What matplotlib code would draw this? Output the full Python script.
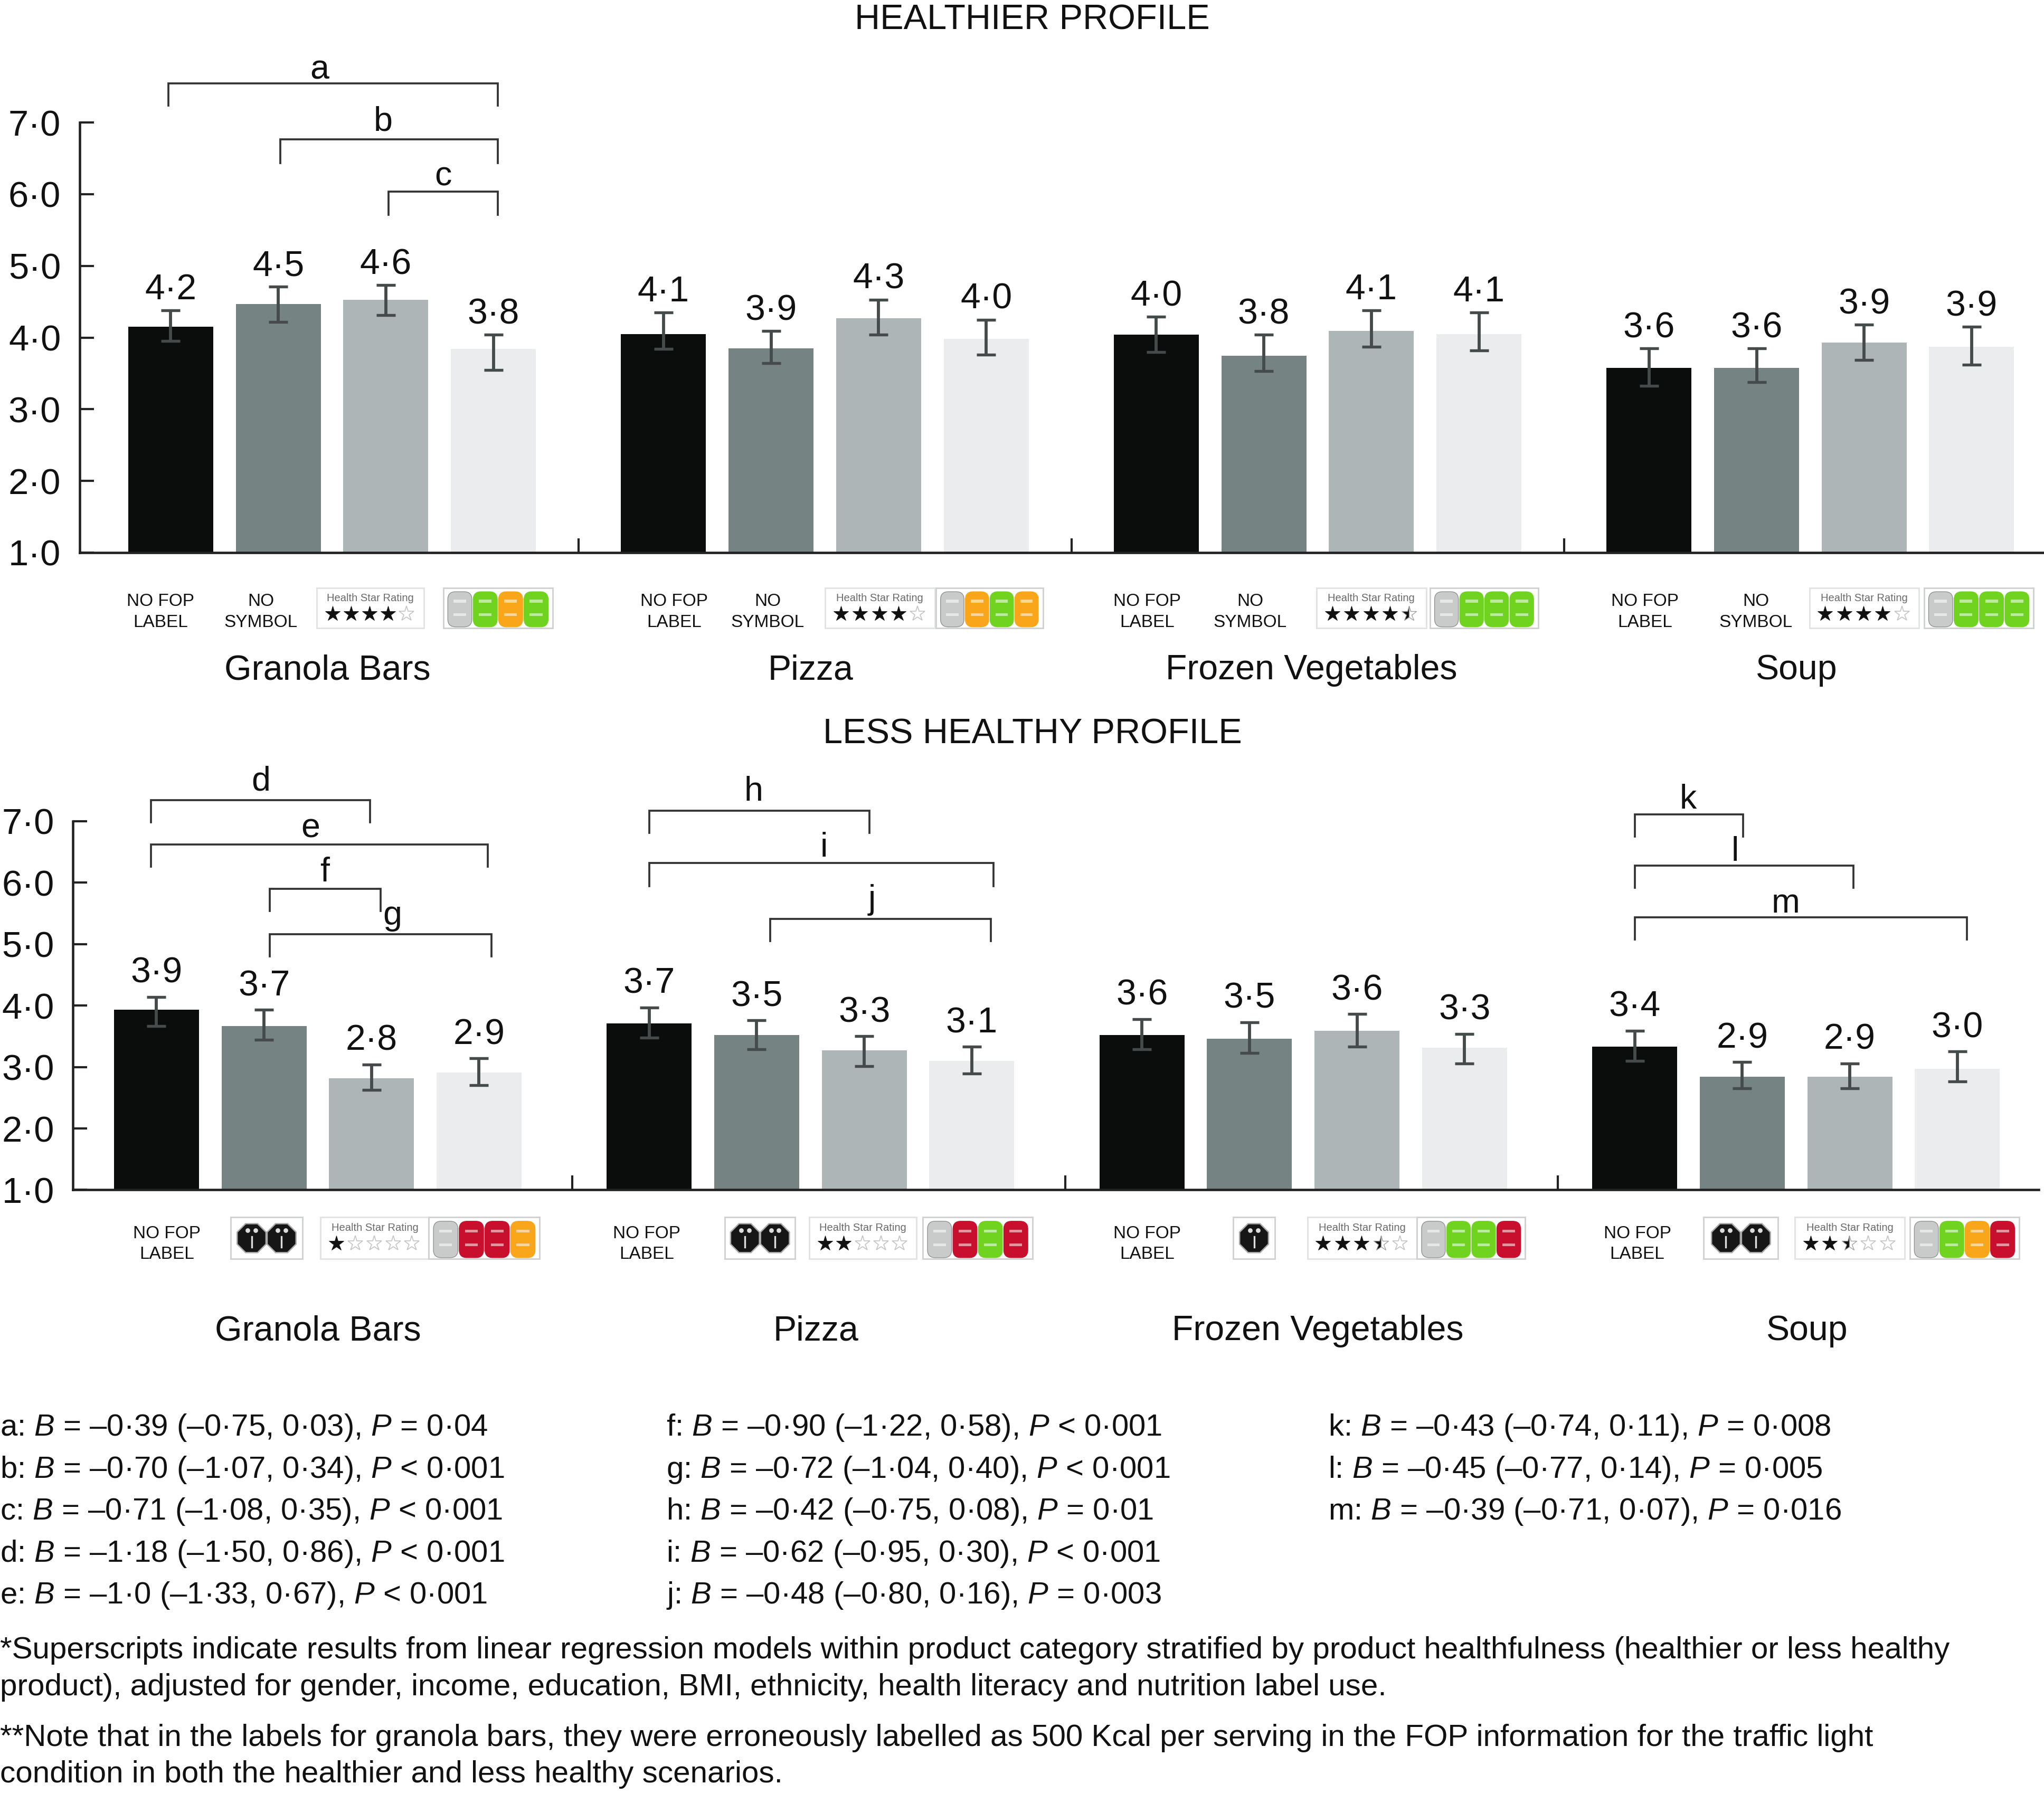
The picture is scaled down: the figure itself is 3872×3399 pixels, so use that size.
import numpy as np
import matplotlib
matplotlib.use("Agg")
import matplotlib.pyplot as plt
from matplotlib.patches import Rectangle, FancyBboxPatch, RegularPolygon
from matplotlib.transforms import ScaledTranslation

plt.rcParams["font.family"] = ["Liberation Sans", "DejaVu Sans"]
plt.rcParams["mathtext.fontset"] = "custom"
plt.rcParams["mathtext.rm"] = "Liberation Sans"
plt.rcParams["mathtext.it"] = "Liberation Sans:italic"

# -----------------------------
# Data
# -----------------------------
categories_top = ["Granola Bars", "Pizza", "Frozen Vegetables", "Soup"]
bar_colors = ["#0b0c0c", "#768383", "#aeb5b6", "#ebeced"]

top_values = [4.15, 4.47, 4.53, 3.84, 4.05, 3.85, 4.27, 3.98,
              4.04, 3.75, 4.09, 4.05, 3.58, 3.58, 3.93, 3.87]
top_hi = [4.38, 4.71, 4.73, 4.04, 4.35, 4.09, 4.53, 4.25,
          4.29, 4.04, 4.38, 4.35, 3.85, 3.85, 4.18, 4.15]
top_lo = [3.95, 4.22, 4.31, 3.55, 3.84, 3.64, 4.04, 3.76,
          3.80, 3.53, 3.87, 3.82, 3.33, 3.38, 3.69, 3.62]
top_labels = ["4·2", "4·5", "4·6", "3·8", "4·1", "3·9", "4·3", "4·0",
              "4·0", "3·8", "4·1", "4·1", "3·6", "3·6", "3·9", "3·9"]

low_values = [3.93, 3.67, 2.82, 2.91, 3.71, 3.52, 3.27, 3.10,
              3.52, 3.46, 3.59, 3.31, 3.33, 2.84, 2.84, 2.97]
low_hi = [4.14, 3.93, 3.04, 3.14, 3.97, 3.76, 3.50, 3.33,
          3.78, 3.73, 3.86, 3.54, 3.59, 3.08, 3.06, 3.25]
low_lo = [3.67, 3.44, 2.63, 2.70, 3.48, 3.29, 3.01, 2.89,
          3.29, 3.23, 3.33, 3.06, 3.10, 2.65, 2.65, 2.76]
low_labels = ["3·9", "3·7", "2·8", "2·9", "3·7", "3·5", "3·3", "3·1",
              "3·6", "3·5", "3·6", "3·3", "3·4", "2·9", "2·9", "3·0"]

ytick_values = [1, 2, 3, 4, 5, 6, 7]
ytick_labels = ["1·0", "2·0", "3·0", "4·0", "5·0", "6·0", "7·0"]

footnotes = [
    (0, ["a: $B$ = –0·39 (–0·75, 0·03), $P$ = 0·04",
         "b: $B$ = –0·70 (–1·07, 0·34), $P$ < 0·001",
         "c: $B$ = –0·71 (–1·08, 0·35), $P$ < 0·001",
         "d: $B$ = –1·18 (–1·50, 0·86), $P$ < 0·001",
         "e: $B$ = –1·0 (–1·33, 0·67), $P$ < 0·001"]),
    (511, ["f: $B$ = –0·90 (–1·22, 0·58), $P$ < 0·001",
           "g: $B$ = –0·72 (–1·04, 0·40), $P$ < 0·001",
           "h: $B$ = –0·42 (–0·75, 0·08), $P$ = 0·01",
           "i: $B$ = –0·62 (–0·95, 0·30), $P$ < 0·001",
           "j: $B$ = –0·48 (–0·80, 0·16), $P$ = 0·003"]),
    (1019, ["k: $B$ = –0·43 (–0·74, 0·11), $P$ = 0·008",
            "l: $B$ = –0·45 (–0·77, 0·14), $P$ = 0·005",
            "m: $B$ = –0·39 (–0·71, 0·07), $P$ = 0·016"]),
]
notes = [
    (1265, "*Superscripts indicate results from linear regression models within product category stratified by product healthfulness (healthier or less healthy"),
    (1293, "product), adjusted for gender, income, education, BMI, ethnicity, health literacy and nutrition label use."),
    (1332, "**Note that in the labels for granola bars, they were erroneously labelled as 500 Kcal per serving in the FOP information for the traffic light"),
    (1360, "condition in both the healthier and less healthy scenarios."),
]

# bracket: label, left, right, y, drop, label x, label y
brackets = [
    ("a", 129, 382, 64, 17, 245, 52), ("b", 215, 382, 107, 18, 294, 92),
    ("c", 298, 382, 147, 18, 340, 134), ("d", 116, 284, 614, 17, 200, 598),
    ("e", 116, 374, 648, 17, 238, 634), ("f", 207, 292, 682, 17, 249, 668),
    ("g", 207, 377, 717, 17, 301, 701), ("h", 498, 667, 622, 17, 578, 606),
    ("i", 498, 762, 662, 18, 632, 649), ("j", 591, 760, 705, 17, 669, 689),
    ("k", 1254, 1337, 625, 17, 1295, 612), ("l", 1254, 1422, 664, 17, 1331, 652),
    ("m", 1254, 1509, 704, 17, 1370, 692),
]

GREY, GREEN, ORANGE, RED = "#c9cbcb", "#6fd320", "#f9a61a", "#c8102e"
# star box: left, right, stars / lights: left, right, colours
top_icons = [
    (243, 325, 4, 340, 424, [GREY, GREEN, ORANGE, GREEN]),
    (633, 717, 4, 718, 800, [GREY, ORANGE, GREEN, ORANGE]),
    (1010, 1094, 4.5, 1097, 1180, [GREY, GREEN, GREEN, GREEN]),
    (1388, 1472, 4, 1476, 1560, [GREY, GREEN, GREEN, GREEN]),
]
low_icons = [
    (246, 329, 1, 329, 414, [GREY, RED, RED, ORANGE]),
    (621, 703, 2, 708, 792, [GREY, RED, GREEN, RED]),
    (1003, 1087, 3.5, 1087, 1170, [GREY, GREEN, GREEN, RED]),
    (1377, 1461, 2.5, 1465, 1549, [GREY, GREEN, ORANGE, RED]),
]
# octagon box: left, right, number of octagons
octagons = [(177, 232, 2), (556, 610, 2), (946, 978, 1), (1307, 1364, 2)]

W, H = 1568.0, 1376.5
fig = plt.figure(figsize=(3872 / 300, 3399 / 300), dpi=300)

# overlay in reference pixels for texts, brackets and label icons
ov = fig.add_axes([0, 0, 1, 1], zorder=5)
ov.set_xlim(0, W)
ov.set_ylim(H, 0)
ov.axis("off")
ov.patch.set_alpha(0)


def draw_bars(values, hi, lo, labels, left, right, y7, y1, bar0, tick_off, label_off, ylab_dy):
    spacing = 82.5
    gap = 378 / spacing
    ax = fig.add_axes([left / W, 1 - y1 / H, (right - left) / W, (y1 - y7) / H])
    x = np.array([g * gap + j for g in range(4) for j in range(4)])
    vals = np.array(values)
    ax.bar(x, vals - 1, bottom=1, width=0.79, color=bar_colors * 4)
    ax.errorbar(x, vals, yerr=[vals - np.array(lo), np.array(hi) - vals], fmt="none",
                ecolor="#454b4b", elinewidth=1.4, capsize=4.3, capthick=1.3)
    for xi, top, lab in zip(x, hi, labels):
        ax.annotate(lab, (xi, top), xytext=(0, label_off), textcoords="offset points",
                    ha="center", va="center", fontsize=16.3, color="#111111")
    ax.set_xlim((left - bar0) / spacing, (right - bar0) / spacing)
    ax.set_ylim(1, 7)
    ax.set_yticks(ytick_values)
    ax.set_yticklabels(ytick_labels, fontsize=16.5, color="#111111")
    for lab in ax.get_yticklabels():
        lab.set_transform(lab.get_transform() + ScaledTranslation(0, ylab_dy / 72, fig.dpi_scale_trans))
    ax.set_xticks([g * gap + 3 + tick_off for g in range(3)])
    ax.set_xticklabels([])
    ax.tick_params(axis="both", direction="in", length=6.5, width=1.0, pad=8.5, color="#222222")
    for s in ["top", "right"]:
        ax.spines[s].set_visible(False)
    for s in ["left", "bottom"]:
        ax.spines[s].set_linewidth(1.1)
        ax.spines[s].set_color("#222222")
    return ax


draw_bars(top_values, top_hi, top_lo, top_labels, 61, 1568, 94, 424, 131, 0.794, 9.3, 0)
draw_bars(low_values, low_hi, low_lo, low_labels, 56, 1564, 630, 913, 120, 0.867, 10.8, 1.2)


def txt(x, y, s, size=15, ha="center", color="#111111"):
    ov.text(x, y + 1.5, s, fontsize=size, ha=ha, va="center", color=color)


def star_box(left, right, stars, top, bottom):
    ov.add_patch(Rectangle((left, top), right - left, bottom - top, fc="white",
                           ec="#e2e4e4", lw=0.7))
    txt((left + right) / 2, top + 6.5, "Health Star Rating", size=4.85, color="#6a6a6a")
    xs = np.linspace(left + 12, right - 13, 5)
    for i, xi in enumerate(xs):
        if stars >= i + 1:
            ov.plot(xi, top + 20, marker="*", ms=7.2, mfc="#111111", mec="#111111", mew=0.2)
        elif stars > i:
            ov.plot(xi, top + 20, marker="*", ms=7.2, fillstyle="left", mfc="#111111",
                    markerfacecoloralt="white", mec="#999999", mew=0.3)
        else:
            ov.plot(xi, top + 20, marker="*", ms=7.2, mfc="white", mec="#c4c4c4", mew=0.4)


def lights(left, right, colors, top, bottom):
    ov.add_patch(Rectangle((left, top), right - left, bottom - top, fc="white",
                           ec="#d0d2d2", lw=0.7))
    w = (right - left - 6) / 4
    for i, c in enumerate(colors):
        x0 = left + 3 + i * w
        ov.add_patch(FancyBboxPatch((x0 + 0.5, top + 3), w - 1, bottom - top - 4,
                                    boxstyle="round,pad=0,rounding_size=6", fc=c,
                                    ec="#8a8a8a" if c == GREY else c, lw=0.3))
        for dy in [0.33, 0.66]:
            ov.add_patch(Rectangle((x0 + w * 0.25, top + dy * (bottom - top) - 1),
                                   w * 0.5, 2.2, fc="white", ec="none", alpha=0.55))


def octagon_box(left, right, n, top, bottom):
    ov.add_patch(Rectangle((left, top), right - left, bottom - top, fc="white",
                           ec="#d0d2d2", lw=0.7))
    mid = (left + right) / 2
    xs = [mid - 11.5, mid + 11.5] if n > 1 else [mid]
    ym = (top + bottom) / 2
    for xi in xs:
        ov.add_patch(RegularPolygon((xi, ym), 8, radius=12, orientation=np.pi / 8,
                                    fc="#161616", ec="#aaaaaa", lw=0.6))
        ov.plot([xi - 3, xi + 3], [ym - 6, ym - 6], ls="none", marker="o", ms=1.1, color="#dddddd")
        ov.plot([xi, xi], [ym - 1, ym + 7], color="#dddddd", lw=0.8)


# titles and group names
txt(792, 14, "HEALTHIER PROFILE", size=16)
txt(792, 562, "LESS HEALTHY PROFILE", size=16)
for x, name in zip([251, 622, 1006, 1378], categories_top):
    txt(x, 513, name, size=15.9)
for x, name in zip([244, 626, 1011, 1386], categories_top):
    txt(x, 1020, name, size=15.9)

# condition labels under the bars
for x in [123, 517, 880, 1262]:
    txt(x, 460, "NO FOP", size=8)
    txt(x, 476, "LABEL", size=8)
for x in [200, 589, 959, 1347]:
    txt(x, 460, "NO", size=8)
    txt(x, 476, "SYMBOL", size=8)
for x in [128, 496, 880, 1256]:
    txt(x, 945, "NO FOP", size=8)
    txt(x, 961, "LABEL", size=8)

for a, b, st, c, d, cols in top_icons:
    star_box(a, b, st, 451, 482)
    lights(c, d, cols, 451, 482)
for a, b, st, c, d, cols in low_icons:
    star_box(a, b, st, 934, 966)
    lights(c, d, cols, 934, 966)
for a, b, n in octagons:
    octagon_box(a, b, n, 934, 966)

# significance brackets
for lab, x0, x1, y, drop, lx, ly in brackets:
    ov.plot([x0, x0, x1, x1], [y + drop, y, y, y + drop], color="#333333", lw=0.9,
            solid_joinstyle="miter")
    txt(lx, ly, lab, size=15.5)

# footnotes
for x, lines in footnotes:
    for i, line in enumerate(lines):
        txt(x, 1094 + i * 32.2, line, size=13.95, ha="left")
for y, line in notes:
    txt(0, y, line, size=14, ha="left")

fig.savefig("out.png", dpi=300)
